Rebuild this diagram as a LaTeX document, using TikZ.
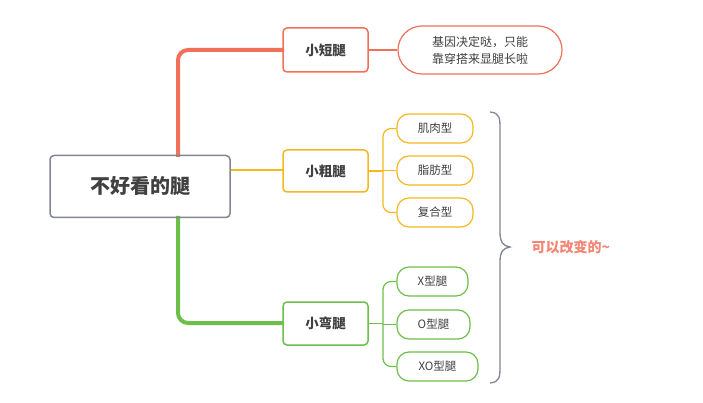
\documentclass[tikz,border=0pt]{standalone}
\usepackage{fontspec}
\setmainfont{Noto Sans CJK SC}
\begin{document}
\begin{tikzpicture}[x=1pt,y=-1pt,
  box/.style={draw,line width=1.5pt,rounded corners=4pt,inner sep=0pt,font=\bfseries\fontsize{13.5}{15}\selectfont,text=black!75},
  leaf/.style={draw,line width=1.2pt,rounded corners=12pt,inner sep=0pt,font=\fontsize{11.5}{13}\selectfont,text=black!75},
  br/.style={line width=4pt,rounded corners=10pt}]
\definecolor{cr}{HTML}{F0705A}\definecolor{cy}{HTML}{F5B820}\definecolor{cg}{HTML}{6CC04A}\definecolor{cb}{HTML}{7F8694}
\useasboundingbox (0,0) rectangle (703,403);
\fill[white] (0,0) rectangle (703,403);
% branches
\draw[br,cr] (178,157) -- (178,50) -- (284,50);
\draw[br,cg] (178,216) -- (178,323) -- (284,323);
\draw[line width=2.5pt,cy] (230,170) -- (284,170);
\node[box,draw=cb,minimum width=180pt,minimum height=62pt,font=\bfseries\fontsize{20}{22}\selectfont] (root) at (140,186.5) {不好看的腿};
\node[box,draw=cr,minimum width=85pt,minimum height=44pt] (a) at (325.5,50) {小短腿};
\node[box,draw=cy,minimum width=85pt,minimum height=42pt] (b) at (325.5,171) {小粗腿};
\node[box,draw=cg,minimum width=85pt,minimum height=43pt] (c) at (325.5,323.5) {小弯腿};
\node[leaf,draw=cr,minimum width=164pt,minimum height=48pt,rounded corners=24pt,align=center,font=\fontsize{12}{17}\selectfont] (a1) at (480,50) {基因决定哒，只能\\靠穿搭来显腿长啦};
\draw[line width=1.2pt,cr] (a) -- (a1);
\foreach \n/\t/\y/\w in {b1/肌肉型/128.5/76, b2/脂肪型/170.5/76, b3/复合型/212.5/76}
  \node[leaf,draw=cy,minimum width=\w pt,minimum height=29pt] (\n) at (397+\w/2,\y) {\t};
\foreach \n/\t/\y/\w in {c1/X型腿/281.5/71, c2/O型腿/324.5/73, c3/XO型腿/366.5/81}
  \node[leaf,draw=cg,minimum width=\w pt,minimum height=29pt] (\n) at (397+\w/2,\y) {\t};
\draw[line width=1.2pt,cy] (b.east) -- (383,171);
\draw[line width=1.2pt,cy,rounded corners=8pt] (b1.west) -- (383,128.5) -- (383,212.5) -- (b3.west);
\draw[line width=1.2pt,cy] (383,170.5) -- (b2.west);
\draw[line width=1.2pt,cg] (c.east) -- (383,323.5);
\draw[line width=1.2pt,cg,rounded corners=8pt] (c1.west) -- (383,281.5) -- (383,366.5) -- (c3.west);
\draw[line width=1.2pt,cg] (383,324.5) -- (c2.west);
% big brace
\draw[cb,line width=1.3pt] (490,112) .. controls (500,113) and (500,118) .. (500,130) -- (500,232) .. controls (500,242) and (503,246) .. (510,247) .. controls (503,248) and (500,252) .. (500,262) -- (500,365) .. controls (500,377) and (500,382) .. (490,383);
\node[font=\bfseries\fontsize{14}{16}\selectfont,text=cr!85!white,anchor=west] (t) at (528,247) {可以改变的\textasciitilde};
\end{tikzpicture}
\end{document}
